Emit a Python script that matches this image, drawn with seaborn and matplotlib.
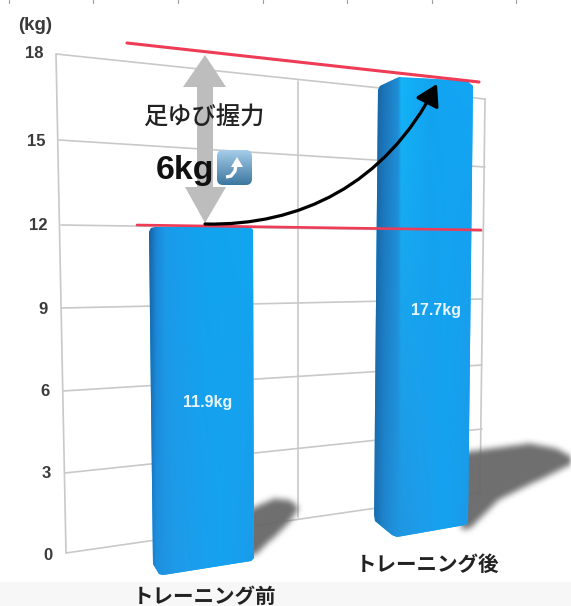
import numpy as np
import pandas as pd
import matplotlib
matplotlib.use("Agg")
import matplotlib.pyplot as plt
import seaborn as sns
from matplotlib.colors import to_rgb
from matplotlib.patches import FancyArrowPatch, FancyBboxPatch, Polygon, Rectangle
from matplotlib.path import Path

categories = ["トレーニング前", "トレーニング後"]
values = [11.9, 17.7]
tick_values = [0, 3, 6, 9, 12, 15, 18]
unit_label = "(kg)"
title_label = "足ゆび握力"
gain_label = "6kg"

W, H = 571, 606
sns.set_theme(style="white")
JP = ["Noto Sans CJK JP", "DejaVu Sans"]
plt.rcParams["font.family"] = JP
fig = plt.figure(figsize=(W / 100, H / 100), dpi=100, facecolor="white")


def pixel_axes(x0, y0, x1, y1, z):
    ax = fig.add_axes([x0 / W, 1 - y1 / H, (x1 - x0) / W, (y1 - y0) / H], zorder=z)
    ax.patch.set_alpha(0)
    return ax


def blur(a, n):
    k = np.ones(n) / n
    for _ in range(3):
        a = np.apply_along_axis(lambda r: np.convolve(r, k, mode="same"), 0, a)
        a = np.apply_along_axis(lambda r: np.convolve(r, k, mode="same"), 1, a)
    return a


# ---- back layer: wall, grid, shadows
back = pixel_axes(0, 0, W, H, 0)
back.set_xlim(0, W)
back.set_ylim(H, 0)
back.axis("off")
back.add_patch(Rectangle((0, 582), W, 24, color="#F7F7F7", lw=0))
for x in [9, 93, 178, 263, 347, 432, 516]:
    back.plot([x, x], [0, 3], color="#999999", lw=0.8)

wall_left = {0: (66, 553), 3: (65, 473), 6: (63, 391), 9: (62, 308), 12: (61, 225), 15: (59, 140), 18: (56, 54)}
wall_right = {0: (480, 493), 3: (482, 429), 6: (482, 365), 9: (482, 299), 12: (483, 231), 15: (485, 167), 18: (485, 99)}
label_pos = {0: (53, 555), 3: (51, 474), 6: (50, 392), 9: (48, 309), 12: (47, 226), 15: (45, 141), 18: (44, 54)}
GRID = "#C9C9C9"
for t in tick_values:
    (a, b), (c, d) = wall_left[t], wall_right[t]
    back.plot([a, c], [b, d], color=GRID, lw=1.2, solid_capstyle="round")
    back.text(*label_pos[t], str(t), ha="right", va="center", fontsize=12, color="#3A3A3A",
              family="Liberation Sans", fontweight="bold")
back.plot([56, 66], [54, 553], color=GRID, lw=1.2)
back.plot([298, 298], [81, 517], color=GRID, lw=1.2)
back.plot([485, 480], [99, 493], color=GRID, lw=1.2)
back.text(35, 26, unit_label, ha="center", va="center", fontsize=13.5, color="#3A3A3A",
          family="Liberation Sans", fontweight="bold")

yy, xx = np.mgrid[0:H, 0:W]
pts = np.c_[xx.ravel() + .5, yy.ravel() + .5]
shadow_polys = [
    [(248, 508), (273, 497), (290, 499), (297, 507), (287, 522), (254, 553), (240, 556)],
    [(460, 451), (528, 442), (555, 447), (575, 458), (573, 461), (498, 498), (468, 527), (460, 528)],
]
mask = np.zeros((H, W))
for p in shadow_polys:
    mask = np.maximum(mask, Path(p).contains_points(pts).reshape(H, W).astype(float))
mask = blur(mask, 6)
rgba = np.zeros((H, W, 4))
rgba[..., :3] = 0.41
rgba[..., 3] = mask * 0.96
back.imshow(rgba, extent=(0, W, H, 0), aspect="auto", zorder=2, interpolation="bilinear")
back.set_xlim(0, W)
back.set_ylim(H, 0)


# ---- bars
def hex_ramp(px, stops):
    xs = [s[0] for s in stops]
    cols = np.array([to_rgb(s[1]) for s in stops])
    return np.stack([np.interp(px, xs, cols[:, i]) for i in range(3)], axis=-1)


bar_specs = [
    dict(box=(148, 227, 254, 575),
         poly=[(149, 232), (151, 228), (155, 227), (250, 227), (253, 230), (254, 558), (251, 561),
               (163, 575), (159, 574), (153, 564), (151, 400)],
         top=[(148, "#155F9E"), (156, "#1B86D6"), (165, "#1A9BE9"), (200, "#12A2EE"), (254, "#12A6F0")],
         bottom=[(148, "#1A70B5"), (156, "#1E8FDD"), (175, "#1F9AE8"), (220, "#16A2F0"), (254, "#1A9CEA")],
         offset=(7, -1), pad=8.2, tick=0.033),
    dict(box=(374, 77, 473, 537),
         poly=[(378, 90), (380, 86), (399, 77), (467, 81), (473, 86), (468, 523), (465, 525),
               (397, 537), (392, 535), (375, 521), (374, 515)],
         top=[(374, "#165F9C"), (384, "#1C74B8"), (398, "#1F8ED6"), (401, "#12B4F8"), (430, "#12A4F0"), (473, "#12A6F4")],
         bottom=[(374, "#1A6FB2"), (384, "#1E86CF"), (398, "#2095E0"), (420, "#1E9CEA"), (445, "#15A2F0"), (473, "#1D98E6")],
         offset=(13, -3), pad=12.2, tick=0.045),
]
for cat, val, spec in zip(categories, values, bar_specs):
    x0, y0, x1, y1 = spec["box"]
    ax = pixel_axes(x0, y0, x1, y1, 1)
    sns.barplot(data=pd.DataFrame({"phase": [cat], "kg": [val]}), x="phase", y="kg",
                color="#12A2EE", width=1, saturation=1, ax=ax)
    ax.set_xlim(-.5, .5)
    ax.set_ylim(0, val)
    ax.set(xlabel="", ylabel="", yticks=[])
    ax.set_xticks([spec["tick"]], [cat])
    sns.despine(ax=ax, left=True, bottom=True)
    ax.tick_params(axis="x", length=0, pad=spec["pad"], labelsize=14.8)
    for lab in ax.get_xticklabels():
        lab.set_fontweight("bold")
        lab.set_color("#222222")
    px = np.linspace(x0, x1, x1 - x0)
    t = hex_ramp(px, spec["top"])
    b = hex_ramp(px, spec["bottom"])
    f = np.linspace(0, 1, 200)[:, None, None]
    img = ax.imshow(t[None, :, :] * (1 - f) + b[None, :, :] * f, extent=(-.5, .5, 0, val),
                    aspect="auto", zorder=3, origin="upper")
    ax.set_xlim(-.5, .5)
    ax.set_ylim(0, val)
    clip = Polygon(spec["poly"], closed=True, transform=back.transData)
    img.set_clip_path(clip)
    for patch in ax.patches:
        patch.set_clip_path(clip)
    ax.annotate(f"{val}kg", xy=(0, val / 2), xytext=spec["offset"], textcoords="offset pixels",
                ha="center", va="center", color="#EAF6FF", fontsize=11.5, fontweight="bold",
                family="Liberation Sans", zorder=5)

# ---- front layer: annotations
front = pixel_axes(0, 0, W, H, 2)
front.set_xlim(0, W)
front.set_ylim(H, 0)
front.axis("off")
front.add_patch(Polygon([(205, 55), (226, 87), (213, 87), (213, 187), (226, 187), (205, 223), (185, 187),
                         (197, 187), (197, 87), (183, 87)], closed=True, color="#BDBDBD", lw=0, zorder=1))
RED = "#EE3B56"
front.plot([127, 479], [43, 82], color=RED, lw=2.2, solid_capstyle="round", zorder=2)
front.plot([137, 481], [225, 230], color=RED, lw=1.9, solid_capstyle="round", zorder=2)
front.add_patch(FancyArrowPatch(
    path=Path([(205, 224), (300, 226), (385, 185), (437, 84)], [Path.MOVETO, Path.CURVE4, Path.CURVE4, Path.CURVE4]),
    arrowstyle="-|>,head_length=0.75,head_width=0.45", mutation_scale=17, color="black", lw=2.3, zorder=3,
    shrinkA=0, shrinkB=0))
front.text(204, 118, title_label, ha="center", va="center", fontsize=17.5, color="#222222",
           fontweight="medium", zorder=4)
front.text(185, 170, gain_label, ha="center", va="center", fontsize=24.5, fontweight="bold",
           color="#111111", family="Liberation Sans", zorder=4)
grad = np.linspace(0, 1, 64)[:, None, None]
emoji = np.array(to_rgb("#A6CDE9"))[None, None, :] * (1 - grad) + np.array(to_rgb("#3C779F"))[None, None, :] * grad
im = front.imshow(emoji, extent=(217, 252, 185, 150), aspect="auto", zorder=4, origin="upper")
front.set_xlim(0, W)
front.set_ylim(H, 0)
clip_box = FancyBboxPatch((217, 150), 35, 35, boxstyle="round,pad=0,rounding_size=6", transform=front.transData)
im.set_clip_path(clip_box)
front.plot(*zip((226, 177), (231, 176), (235, 171), (236, 164)), color="white", lw=2.4, zorder=5,
           solid_capstyle="butt")
front.add_patch(Polygon([(237, 157), (243, 167), (231, 167)], closed=True, color="white", lw=0, zorder=5))

fig.savefig("out.png", dpi=100)
